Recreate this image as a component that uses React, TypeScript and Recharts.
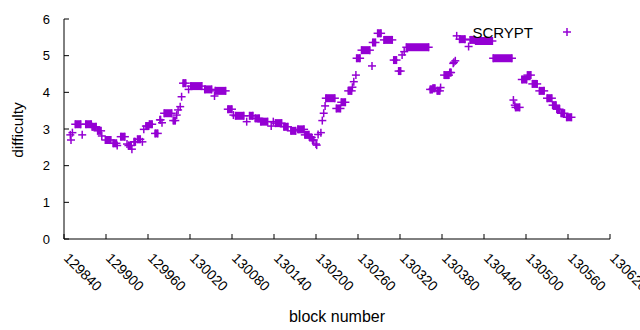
import {
    ScatterChart,
    Scatter,
    XAxis,
    YAxis,
    ErrorBar,
    Legend,
} from "recharts"

// runs of blocks sharing one difficulty value (start == end is a single block)
const runStart = [
    129849, 129850, 129852, 129856, 129866, 129871, 129880, 129888, 129894, 129899,
    129910, 129916, 129921, 129930, 129932, 129937, 129940, 129945, 129952, 129954,
    129957, 129962, 129970, 129977, 129980, 129983, 129996, 130001, 130003, 130006,
    130008, 130010, 130018, 130021, 130041, 130055, 130056, 130074, 130082, 130085,
    130101, 130105, 130113, 130121, 130136, 130139, 130142, 130154, 130164, 130174,
    130184, 130191, 130195, 130200, 130201, 130203, 130207, 130209, 130211, 130213,
    130214, 130229, 130236, 130246, 130252, 130254, 130257, 130258, 130265, 130280,
    130281, 130288, 130297, 130311, 130318, 130323, 130326, 130329, 130363, 130367,
    130373, 130378, 130383, 130391, 130396, 130397, 130399, 130401, 130405, 130418,
    130420, 130428, 130453, 130482, 130484, 130485, 130494, 130502, 130509, 130519,
    130530, 130538, 130544, 130550, 130558,
]

const runEnd = [
    129849, 129850, 129852, 129864, 129866, 129879, 129886, 129893, 129894, 129907,
    129915, 129916, 129927, 129930, 129936, 129937, 129942, 129949, 129952, 129954,
    129961, 129966, 129974, 129978, 129980, 129994, 129999, 130001, 130003, 130006,
    130008, 130014, 130018, 130037, 130051, 130055, 130071, 130080, 130082, 130097,
    130101, 130110, 130119, 130131, 130136, 130139, 130151, 130160, 130171, 130183,
    130190, 130194, 130197, 130200, 130201, 130203, 130207, 130209, 130211, 130213,
    130227, 130235, 130242, 130251, 130252, 130254, 130257, 130263, 130277, 130280,
    130285, 130293, 130309, 130315, 130321, 130323, 130326, 130361, 130366, 130370,
    130377, 130378, 130390, 130393, 130396, 130397, 130399, 130401, 130413, 130418,
    130427, 130452, 130480, 130482, 130484, 130491, 130501, 130507, 130516, 130526,
    130537, 130543, 130548, 130555, 130565,
]

const runDifficulty = [
    2.84, 2.7, 2.9, 3.13, 2.84, 3.13, 3.06, 2.95, 2.81, 2.7,
    2.61, 2.55, 2.79, 2.59, 2.55, 2.45, 2.65, 2.72, 2.65, 2.99,
    3.08, 3.13, 2.88, 3.25, 3.17, 3.43, 3.23, 3.38, 3.52, 3.61,
    3.88, 4.25, 4.08, 4.17, 4.08, 3.9, 4.04, 3.54, 3.38, 3.36,
    3.2, 3.36, 3.29, 3.2, 3.08, 3.2, 3.16, 3.06, 2.95, 2.99,
    2.84, 2.77, 2.7, 2.59, 2.56, 2.85, 2.9, 3.23, 3.43, 3.63,
    3.84, 3.56, 3.73, 4.04, 4.14, 4.29, 4.47, 4.93, 5.15, 4.72,
    5.36, 5.61, 5.43, 4.88, 4.58, 5.02, 5.11, 5.23, 4.08, 4.11,
    4.04, 4.13, 4.47, 4.54, 4.79, 4.82, 4.86, 5.54, 5.45, 5.25,
    5.43, 5.4, 4.93, 3.79, 3.65, 3.59, 4.35, 4.47, 4.23, 4.04,
    3.84, 3.65, 3.54, 3.43, 3.32,
]

const xTicks = [
    129840, 129900, 129960, 130020, 130080, 130140, 130200,
    130260, 130320, 130380, 130440, 130500, 130560, 130620,
]
const yTicks = [0, 1, 2, 3, 4, 5, 6]

const PURPLE = "#9400d3"
const FONT = "'Liberation Sans', Arial, sans-serif"

const runsFirst = runStart.map((s, i) => ({
    block: s,
    difficulty: runDifficulty[i],
    span: [0, runEnd[i] - s],
}))

const runsLast = runEnd
    .map((e, i) => ({ block: e, difficulty: runDifficulty[i], single: e === runStart[i] }))
    .filter((d) => !d.single)

const Plus = (props: any) => {
    const { cx, cy } = props
    if (cx == null || cy == null) return null
    return (
        <g stroke={PURPLE} strokeWidth={1.5}>
            <line x1={cx - 4} y1={cy} x2={cx + 4} y2={cy} />
            <line x1={cx} y1={cy - 4} x2={cx} y2={cy + 4} />
        </g>
    )
}

const XTick = (props: any) => {
    const { x, y, payload } = props
    const bx = x - 1
    const by = y
    return (
        <text
            x={bx}
            y={by}
            transform={`rotate(45, ${bx}, ${by})`}
            fontSize={14}
            fontFamily={FONT}
            fill="#000"
            textAnchor="start"
        >
            {payload.value}
        </text>
    )
}

const KeyContent = () => (
    <svg width={140} height={24}>
        <text
            x={73}
            y={17}
            textAnchor="end"
            fontSize={15}
            fontFamily={FONT}
            fill="#000"
        >
            SCRYPT
        </text>
        <g stroke={PURPLE} strokeWidth={1.5}>
            <line x1={103} y1={11} x2={111} y2={11} />
            <line x1={107} y1={7} x2={107} y2={15} />
        </g>
    </svg>
)

export default function App() {
    return (
        <div
            style={{
                position: "absolute",
                left: 0,
                top: 0,
                width: 640,
                height: 330,
                background: "#fff",
            }}
        >
            <ScatterChart
                width={640}
                height={330}
                margin={{ top: 19, right: 30, bottom: 0, left: 0 }}
            >
                <XAxis
                    type="number"
                    dataKey="block"
                    domain={[129840, 130620]}
                    ticks={xTicks}
                    interval={0}
                    height={91}
                    stroke="#000"
                    tickSize={-5}
                    tickMargin={25}
                    tick={<XTick />}
                    allowDataOverflow
                    label={{
                        value: "block number",
                        position: "insideBottom",
                        offset: 8,
                        fontSize: 16,
                        fontFamily: FONT,
                        fill: "#000",
                    }}
                />
                <XAxis
                    xAxisId="top"
                    orientation="top"
                    type="number"
                    domain={[129840, 130620]}
                    ticks={xTicks}
                    interval={0}
                    height={0}
                    stroke="#000"
                    tickSize={-5}
                    tick={false}
                    allowDataOverflow
                />
                <YAxis
                    type="number"
                    dataKey="difficulty"
                    domain={[0, 6]}
                    ticks={yTicks}
                    interval={0}
                    width={64}
                    stroke="#000"
                    tickSize={-5}
                    tickMargin={19}
                    tick={{ fontSize: 13, fontFamily: FONT, fill: "#000" }}
                    allowDataOverflow
                    label={{
                        content: () => (
                            <text
                                x={17}
                                y={130}
                                transform="rotate(-90, 17, 130)"
                                textAnchor="middle"
                                dominantBaseline="central"
                                fontSize={15.5}
                                fontFamily={FONT}
                                fill="#000"
                            >
                                difficulty
                            </text>
                        ),
                    }}
                />
                <YAxis
                    yAxisId="right"
                    orientation="right"
                    type="number"
                    domain={[0, 6]}
                    ticks={yTicks}
                    interval={0}
                    width={0}
                    stroke="#000"
                    tickSize={-5}
                    tick={false}
                    allowDataOverflow
                />
                <Legend
                    layout="horizontal"
                    verticalAlign="middle"
                    align="center"
                    content={<KeyContent />}
                    wrapperStyle={{ top: 21, left: 460, width: 140, height: 24 }}
                />
                <Scatter
                    name="SCRYPT"
                    data={runsFirst}
                    shape={<Plus />}
                    isAnimationActive={false}
                >
                    <ErrorBar
                        dataKey="span"
                        direction="x"
                        width={0}
                        stroke={PURPLE}
                        strokeWidth={8}
                        isAnimationActive={false}
                    />
                </Scatter>
                <Scatter
                    name="SCRYPT end"
                    data={runsLast}
                    shape={<Plus />}
                    isAnimationActive={false}
                    legendType="none"
                />
            </ScatterChart>
        </div>
    )
}
